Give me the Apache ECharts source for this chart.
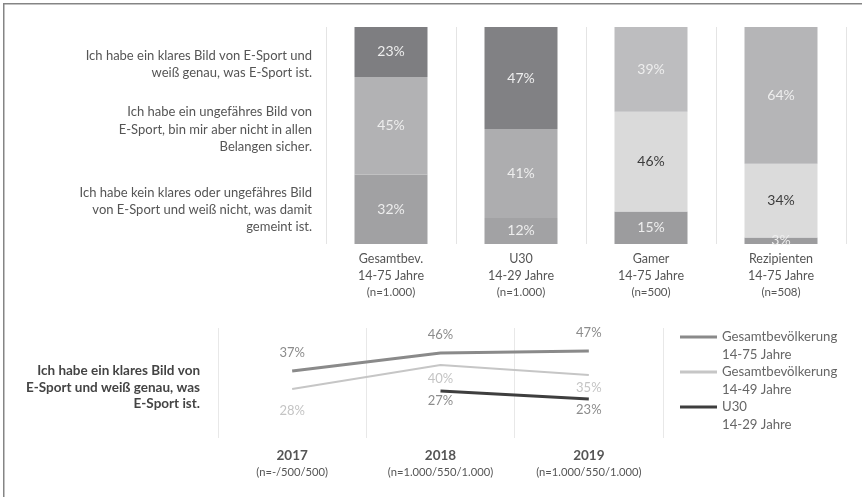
<!DOCTYPE html>
<html><head><meta charset="utf-8">
<script src="https://cdn.jsdelivr.net/npm/echarts@6/dist/echarts.min.js"></script>
<style>html,body{margin:0;padding:0;background:#fff}#c{width:862px;height:497px}</style>
</head><body><div id="c"></div>
<script>
// ---- data ----
const barCategories = ['Gesamtbev.', 'U30', 'Gamer', 'Rezipienten'];
const barSubtitles = ['14-75 Jahre', '14-29 Jahre', '14-75 Jahre', '14-75 Jahre'];
const barSamples = ['(n=1.000)', '(n=1.000)', '(n=500)', '(n=508)'];
const klaresBild = [23, 47, 39, 64];
const ungefaehresBild = [45, 41, 46, 34];
const keinBild = [32, 12, 15, 3];
const statements = [
  'Ich habe ein klares Bild von E-Sport und\nweiß genau, was E-Sport ist.',
  'Ich habe ein ungefähres Bild von\nE-Sport, bin mir aber nicht in allen\nBelangen sicher.',
  'Ich habe kein klares oder ungefähres Bild\nvon E-Sport und weiß nicht, was damit\ngemeint ist.'
];
const lineStatement = 'Ich habe ein klares Bild von\nE-Sport und weiß genau, was\nE-Sport ist.';
const years = ['2017', '2018', '2019'];
const yearSamples = ['(n=-/500/500)', '(n=1.000/550/1.000)', '(n=1.000/550/1.000)'];
const lineNames = ['Gesamtbevölkerung\n14-75 Jahre', 'Gesamtbevölkerung\n14-49 Jahre', 'U30\n14-29 Jahre'];
const gesamt1475 = [37, 46, 47];
const gesamt1449 = [28, 40, 35];
const u30 = [null, 27, 23];

// ---- styles ----
const FONT = 'Lato, "Liberation Sans", sans-serif';
const klarColors = ['#7e7e81', '#818184', '#bdbdbf', '#b5b5b7'];
const ungefColors = ['#b2b2b4', '#adadaf', '#dadada', '#dbdbdb'];
const keinColors = ['#a1a1a3', '#a2a2a4', '#9c9c9e', '#9c9c9e'];
const klarLabel = ['#eeeeee', '#eeeeee', '#eeeeee', '#eeeeee'];
const ungefLabel = ['#eeeeee', '#eeeeee', '#3c3c3c', '#3c3c3c'];
const keinLabel = ['#eeeeee', '#eeeeee', '#eeeeee', '#eeeeee'];

function barData(values, colors, labelColors) {
  return values.map((v, i) => ({
    value: v,
    itemStyle: { color: colors[i] },
    label: { color: labelColors[i] }
  }));
}
function lineData(values, dists) {
  return values.map((v, i) => ({ value: v, label: { distance: dists[i] } }));
}
function barSeries(name, values, colors, labelColors) {
  return {
    type: 'bar', name: name, stack: 'a', xAxisIndex: 0, yAxisIndex: 0,
    barWidth: 73, data: barData(values, colors, labelColors),
    label: { show: true, position: 'inside', formatter: '{c}%', fontSize: 14, fontFamily: FONT },
    emphasis: { disabled: true }
  };
}
function lineSeries(name, values, dists, color, width, pos, labelColor) {
  return {
    type: 'line', name: name, xAxisIndex: 1, yAxisIndex: 1,
    data: lineData(values, dists), symbol: 'circle', symbolSize: 0, showSymbol: true,
    lineStyle: { color: color, width: width }, itemStyle: { color: color },
    label: { show: true, position: pos, formatter: '{c}%', color: labelColor, fontSize: 13, fontFamily: FONT },
    emphasis: { disabled: true }
  };
}

const chart = echarts.init(document.getElementById('c'), null, { renderer: 'canvas' });
const statementStyle = (text, x, y, size, lh, weight, fill) => ({
  type: 'text', x: x, y: y,
  style: { text: text, align: 'right', verticalAlign: 'middle', lineHeight: lh, fontSize: size, fontWeight: weight, fill: fill, fontFamily: FONT }
});
const option = {
  animation: false,
  backgroundColor: '#ffffff',
  textStyle: { fontFamily: FONT },
  grid: [
    { left: 326, top: 27, width: 520, height: 217, containLabel: false, outerBoundsMode: 'none' },
    { left: 218, top: 328, width: 445, height: 110, containLabel: false, outerBoundsMode: 'none' }
  ],
  xAxis: [
    {
      type: 'category', gridIndex: 0, data: barCategories, boundaryGap: true,
      axisLine: { show: false }, axisTick: { show: false },
      splitLine: { show: true, lineStyle: { color: '#e4e4e4', width: 1 } },
      axisLabel: {
        margin: 6, interval: 0,
        formatter: (v, i) => `{a|${barCategories[i]}}\n{a|${barSubtitles[i]}}\n{c|${barSamples[i]}}`,
        rich: {
          a: { fontSize: 12.5, lineHeight: 17, color: '#555555', fontFamily: FONT },
          c: { fontSize: 11.5, lineHeight: 16, color: '#555555', fontFamily: FONT }
        }
      }
    },
    {
      type: 'category', gridIndex: 1, data: years, boundaryGap: true,
      axisLine: { show: false }, axisTick: { show: false },
      splitLine: { show: true, lineStyle: { color: '#e8e8e8', width: 1 } },
      axisLabel: {
        margin: 10, interval: 0,
        formatter: (v, i) => `{a|${years[i]}}\n{c|${yearSamples[i]}}`,
        rich: {
          a: { fontSize: 13.5, fontWeight: 'bold', lineHeight: 16, color: '#555555', fontFamily: FONT },
          c: { fontSize: 11.2, lineHeight: 16, color: '#555555', fontFamily: FONT }
        }
      }
    }
  ],
  yAxis: [
    { type: 'value', gridIndex: 0, min: 0, max: 100, show: false },
    { type: 'value', gridIndex: 1, min: 3.5, max: 58.5, show: false }
  ],
  legend: {
    orient: 'vertical', left: 680, top: 310, padding: 0,
    icon: 'rect', itemWidth: 37, itemHeight: 3, itemGap: -19,
    data: lineNames, selectedMode: false,
    formatter: name => '\n' + name,
    textStyle: { fontSize: 13.2, color: '#666666', lineHeight: 18, fontFamily: FONT }
  },
  series: [
    barSeries('kein', keinBild, keinColors, keinLabel),
    barSeries('ungefähr', ungefaehresBild, ungefColors, ungefLabel),
    barSeries('klar', klaresBild, klarColors, klarLabel),
    lineSeries(lineNames[0], gesamt1475, [12, 12, 12], '#8a8a8a', 3, 'top', '#8c8c8c'),
    lineSeries(lineNames[1], gesamt1449, [15, 7, 6], '#c6c6c6', 2, 'bottom', '#c4c4c4'),
    lineSeries(lineNames[2], u30, [3, 3, 4], '#3e3e3e', 3, 'bottom', '#8c8c8c')
  ],
  graphic: [
    { type: 'line', shape: { x1: 3, y1: 3.75, x2: 862, y2: 3.75 }, style: { stroke: '#858585', lineWidth: 1.5 } },
    { type: 'line', shape: { x1: 3.75, y1: 3, x2: 3.75, y2: 497 }, style: { stroke: '#858585', lineWidth: 1.5 } },
    statementStyle(statements[0], 312, 64.5, 13, 17.3, 'normal', '#555555'),
    statementStyle(statements[1], 312, 129.5, 13, 17.3, 'normal', '#555555'),
    statementStyle(statements[2], 312, 210, 13, 17.3, 'normal', '#555555'),
    statementStyle(lineStatement, 200, 387.5, 13.5, 16.5, 'bold', '#444444')
  ]
};
chart.setOption(option);
</script></body></html>
